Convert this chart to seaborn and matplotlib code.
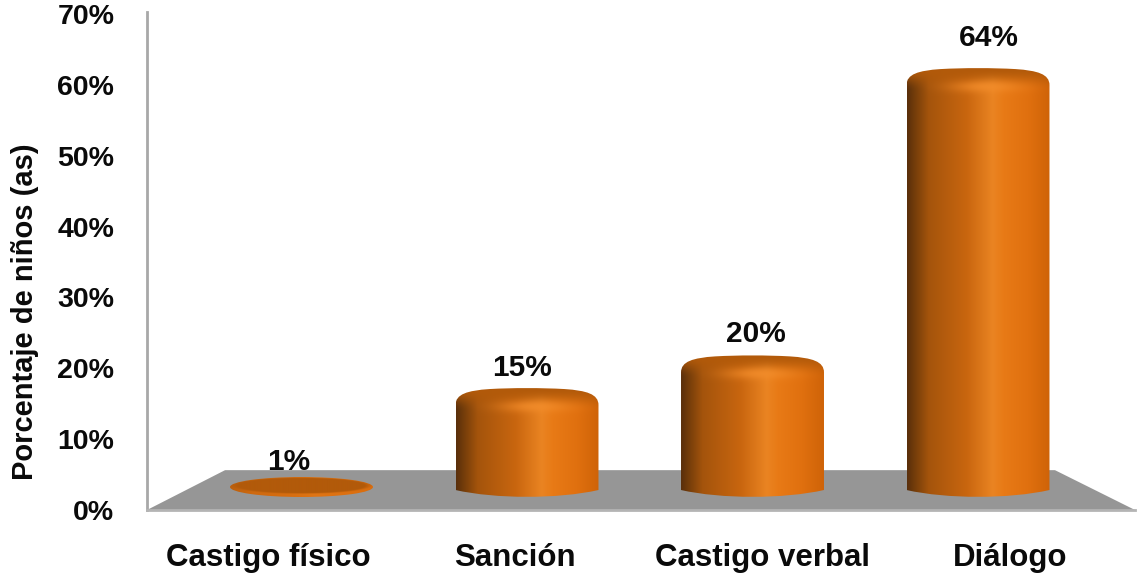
import numpy as np
import matplotlib
matplotlib.use("Agg")
import matplotlib.pyplot as plt
from matplotlib.colors import to_rgb
from matplotlib.patches import PathPatch, Polygon
from matplotlib.path import Path
from matplotlib.transforms import Affine2D
import seaborn as sns

# Data
categorias = ["Castigo físico", "Sanción", "Castigo verbal", "Diálogo"]
porcentajes = [1, 15, 20, 64]
etiquetas = ["1%", "15%", "20%", "64%"]
marcas_y = [0, 10, 20, 30, 40, 50, 60, 70]
etiquetas_y = ["0%", "10%", "20%", "30%", "40%", "50%", "60%", "70%"]

W, H = 1140, 575
LEFT, RIGHT, TOP, BOTTOM = 147, 1135, 12, 510  # plot box, px from top left
PX_CAT = 225.5  # px between two bars (back plane of the fake 3D)
PX_FRONT = 247.3  # px between two category labels (front edge of the floor)
PX_BAR = 6.53  # px per percent on the bars
BASE = 490  # px row of the bars' zero

sns.set_theme(style="white")
plt.rcParams["font.family"] = ["Liberation Sans", "DejaVu Sans"]

fig = plt.figure(figsize=(W / 100, H / 100), dpi=100)
rect = [LEFT / W, 1 - BOTTOM / H, (RIGHT - LEFT) / W, (BOTTOM - TOP) / H]
ax = fig.add_axes(rect)
ax_bar = fig.add_axes(rect, facecolor="none")

# Wall, floor and ticks
ax.set_xlim((LEFT - 268) / PX_FRONT, (RIGHT - 268) / PX_FRONT)
ax.set_ylim(0, 70.28)
ax.add_patch(Polygon([(0, 0), (1, 0), (0.919, 0.08), (0.079, 0.08)],
                     transform=ax.transAxes, facecolor="#969696", edgecolor="none"))
sns.despine(ax=ax, top=True, right=True)
ax.spines["left"].set_color("#a8a8a8")
ax.spines["left"].set_linewidth(2)
ax.spines["bottom"].set_color("#b4b4b4")
ax.spines["bottom"].set_linewidth(2)
ax.set_yticks(marcas_y, etiquetas_y, fontsize=20.5, fontweight="bold", color="#0a0a0a")
ax.set_xticks(range(len(categorias)), categorias, fontsize=22.5, fontweight="bold", color="#0a0a0a")
ax.tick_params(axis="y", length=0, pad=23.5)
ax.tick_params(axis="x", length=0, pad=23.5)
ax.set_ylabel("Porcentaje de niños (as)", fontsize=21, fontweight="bold",
              color="#0a0a0a", va="center")
ax.yaxis.set_label_coords(-0.1235, 0.398)

# Bars
sns.barplot(x=categorias, y=porcentajes, color="#e07010", width=0.634, ax=ax_bar)

stops = [0, 0.04, 0.15, 0.42, 0.6, 0.68, 0.85, 1]
cols = np.array([to_rgb(c) for c in ["#5a2f0c", "#6e3a0a", "#a4540c", "#c9660f",
                                     "#ea8422", "#e87a16", "#e0700f", "#cf6308"]])
tapa = np.array(to_rgb("#b25a0a"))
brillo = np.array(to_rgb("#f48e2c"))
canto = np.array(to_rgb("#dc7010"))


def gradient(u):
    return np.stack([np.interp(u, stops, cols[:, i]) for i in range(3)], axis=1)


def disc(patch):
    # very short bar: a flat coin lying on the floor
    x0, x1 = patch.get_x(), patch.get_x() + patch.get_width()
    xc = (x0 + x1) / 2
    py = 1 / PX_BAR
    yc, ry = 3 * py, 10 * py
    yt, low = yc + ry, yc - ry
    shape = Path.unit_circle().transformed(Affine2D().scale((x1 - x0) / 2, ry).translate(xc, yc))

    u = np.linspace(0, 1, 150)
    rows = np.linspace(yt, low, 40)
    uu, rr = np.meshgrid(2 * u - 1, (rows - (yc + 1.5 * py)) / (8.5 * py))
    inside = np.clip((1 - (uu ** 2 + rr ** 2)) * 5, 0, 1)[..., None]
    rim = 0.25 * gradient(u)[None, :, :] + 0.75 * canto
    img = tapa * inside + rim * (1 - inside)
    return shape, img, (x0, x1, low, yt)


def cylinder(patch):
    x0, x1 = patch.get_x(), patch.get_x() + patch.get_width()
    xc = (x0 + x1) / 2
    px = 1 / PX_CAT
    py = 1 / PX_BAR
    yt = patch.get_height() + 4 * py  # rim sits a little above the value
    ys = yt - 17 * py  # where the shoulder meets the side
    low = -7 * py
    verts = [
        (x0, 0), (x0, ys),
        (x0, yt - 6 * py), (x0 + 12 * px, yt - 2.5 * py), (x0 + 34 * px, yt - 1 * py),
        (xc - 14 * px, yt + 0.3 * py), (xc + 14 * px, yt + 0.3 * py), (x1 - 34 * px, yt - 1 * py),
        (x1 - 12 * px, yt - 2.5 * py), (x1, yt - 6 * py), (x1, ys),
        (x1, 0),
        (x1 - 40 * px, low * 1.3), (x0 + 40 * px, low * 1.3), (x0, 0),
    ]
    codes = [Path.MOVETO, Path.LINETO,
             Path.CURVE4, Path.CURVE4, Path.CURVE4,
             Path.CURVE4, Path.CURVE4, Path.CURVE4,
             Path.CURVE4, Path.CURVE4, Path.CURVE4,
             Path.LINETO,
             Path.CURVE4, Path.CURVE4, Path.CURVE4]

    # shading: horizontal metal gradient, darker rim on top with a soft highlight
    u = np.linspace(0, 1, 150)
    rows = np.linspace(yt, low, max(int((yt - low) / py), 2))
    depth = (yt - rows) / py  # px under the rim
    t = np.clip(depth / 22, 0, 1)[:, None, None]
    t = t * t * (3 - 2 * t)
    img = tapa[None, None, :] * (1 - t) + gradient(u)[None, :, :] * t
    g = np.exp(-((u - 0.55) / 0.24) ** 2)[None, :] * np.exp(-((depth - 18) / 6) ** 2)[:, None]
    img = img * (1 - g[..., None] * 0.75) + brillo[None, None, :] * g[..., None] * 0.75
    return Path(verts, codes), img, (x0, x1, low, yt)


for i, (patch, valor, texto) in enumerate(zip(list(ax_bar.patches), porcentajes, etiquetas)):
    patch.set_alpha(0)
    shape, img, extent = disc(patch) if valor * PX_BAR < 15 else cylinder(patch)
    im = ax_bar.imshow(img, extent=extent, aspect="auto", zorder=3, interpolation="bilinear")
    clip = PathPatch(shape, transform=ax_bar.transData, facecolor="none", edgecolor="none")
    ax_bar.add_patch(clip)
    im.set_clip_path(clip)
    # labels sit on their own plane: they drift right and up compared to the bars
    ax_bar.annotate(texto, (patch.get_x() + patch.get_width() / 2, valor),
                    xytext=((-12.5 + 7.8 * i) * 0.72, (21.5 + 0.19 * valor) * 0.72),
                    textcoords="offset points", ha="center", va="center",
                    fontsize=21.5, fontweight="bold", color="#0a0a0a", zorder=5)

ax_bar.set_xlim((LEFT - 301.5) / PX_CAT, (RIGHT - 301.5) / PX_CAT)
ax_bar.set_ylim((BASE - BOTTOM) / PX_BAR, (BASE - TOP) / PX_BAR)
ax_bar.axis("off")

fig.savefig("out.png", dpi=100)
